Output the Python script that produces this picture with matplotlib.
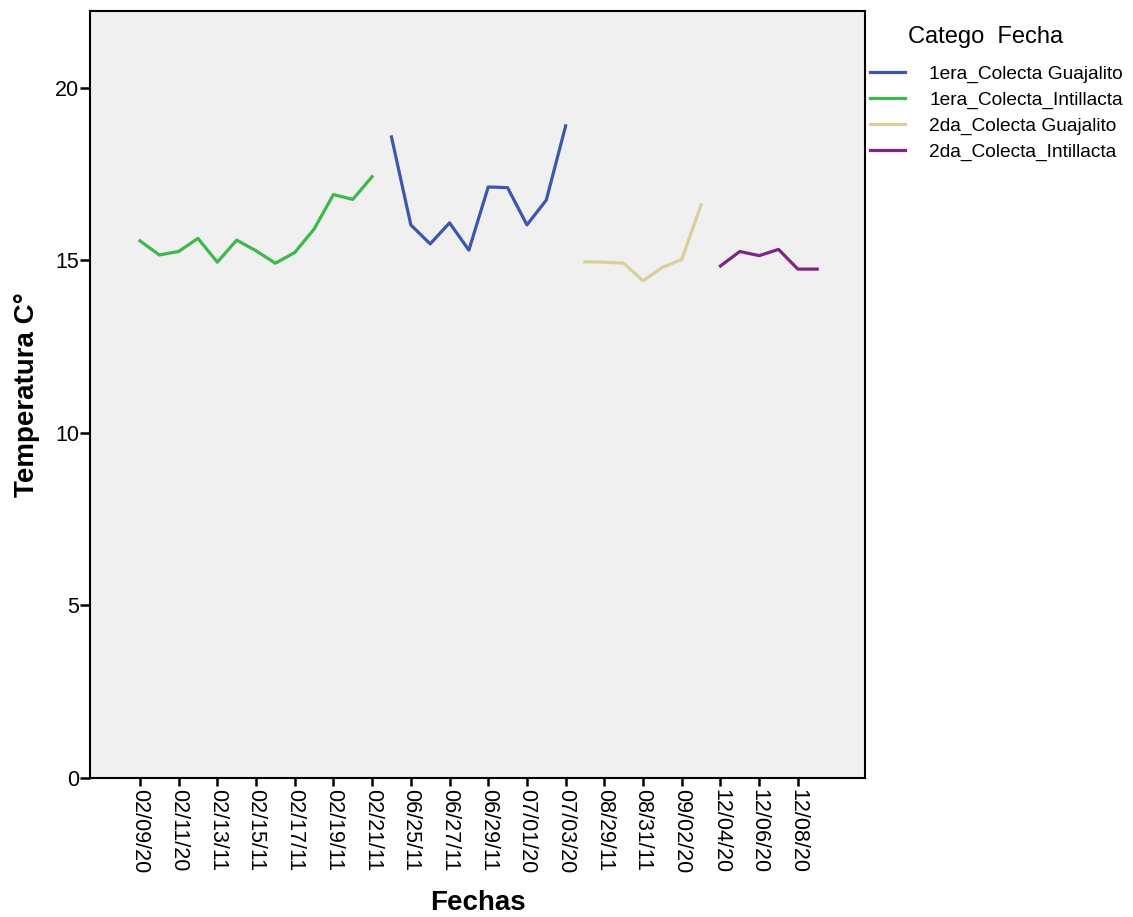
import matplotlib
matplotlib.use('Agg')
import matplotlib.pyplot as plt
import numpy as np

plt.rcParams['font.family'] = ['Liberation Sans', 'DejaVu Sans']

# series values (deg C), one per day, on a shared categorical date axis
green_vals = [15.57, 15.16, 15.26, 15.64, 14.95, 15.59, 15.28, 14.92, 15.23, 15.91, 16.91, 16.77, 17.43]
blue_vals = [18.58, 16.03, 15.48, 16.09, 15.30, 17.13, 17.11, 16.03, 16.75, 18.90]
yellow_vals = [14.96, 14.95, 14.92, 14.41, 14.80, 15.03, 16.61]
purple_vals = [14.84, 15.26, 15.14, 15.32, 14.75, 14.75]

series_names = ['1era_Colecta Guajalito', '1era_Colecta_Intillacta',
                '2da_Colecta Guajalito', '2da_Colecta_Intillacta']
series_colors = ['#3d57ad', '#3cb94a', '#d7d09a', '#7c2583']

tick_labels = ['02/09/20', '02/11/20', '02/13/11', '02/15/11', '02/17/11', '02/19/11',
               '02/21/11', '06/25/11', '06/27/11', '06/29/11', '07/01/20', '07/03/20',
               '08/29/11', '08/31/11', '09/02/20', '12/04/20', '12/06/20', '12/08/20']

W, H = 1133, 917
fig = plt.figure(figsize=(W / 100, H / 100), dpi=100)
ax = fig.add_axes([90/W, 1-778/H, (865-90)/W, (778-11)/H])
ax.set_facecolor('#f0f0f0')

# order on the date axis: green (Feb), blue (Jun/Jul), yellow (Aug/Sep), purple (Dec)
segs = [(green_vals, 1), (blue_vals, 0), (yellow_vals, 2), (purple_vals, 3)]
start = 0
lines = {}
for vals, ci in segs:
    x = np.arange(start, start + len(vals))
    l, = ax.plot(x, vals, color=series_colors[ci], lw=2.3)
    lines[ci] = l
    start += len(vals)

ax.set_xlim(-2.58, 37.47)
ax.set_ylim(0, 22.23)
ax.set_yticks([0, 5, 10, 15, 20])
ax.set_xticks(np.arange(0, len(tick_labels) * 2, 2))
ax.set_xticklabels(tick_labels, rotation=270, fontsize=15.5)
ax.tick_params(axis='y', labelsize=15.5, length=7, width=1.8, pad=1)
ax.tick_params(axis='x', length=6, width=1.8, pad=2)
for s in ax.spines.values():
    s.set_linewidth(1.5)

ax.set_ylabel('Temperatura C°', fontsize=20, fontweight='bold', labelpad=10.5)
ax.set_xlabel('Fechas', fontsize=20, fontweight='bold', labelpad=12)

fig.text(908/W, 1-37/H, 'Catego  Fecha', fontsize=17, ha='left', va='center')
leg = fig.legend([lines[i] for i in range(4)], series_names,
                 loc='upper left', bbox_to_anchor=(870/W, 1-65/H), frameon=False,
                 fontsize=13.8, handlelength=1.8, handletextpad=1.3,
                 labelspacing=0.45, borderaxespad=0, borderpad=0)

fig.savefig('out.png', dpi=100)
